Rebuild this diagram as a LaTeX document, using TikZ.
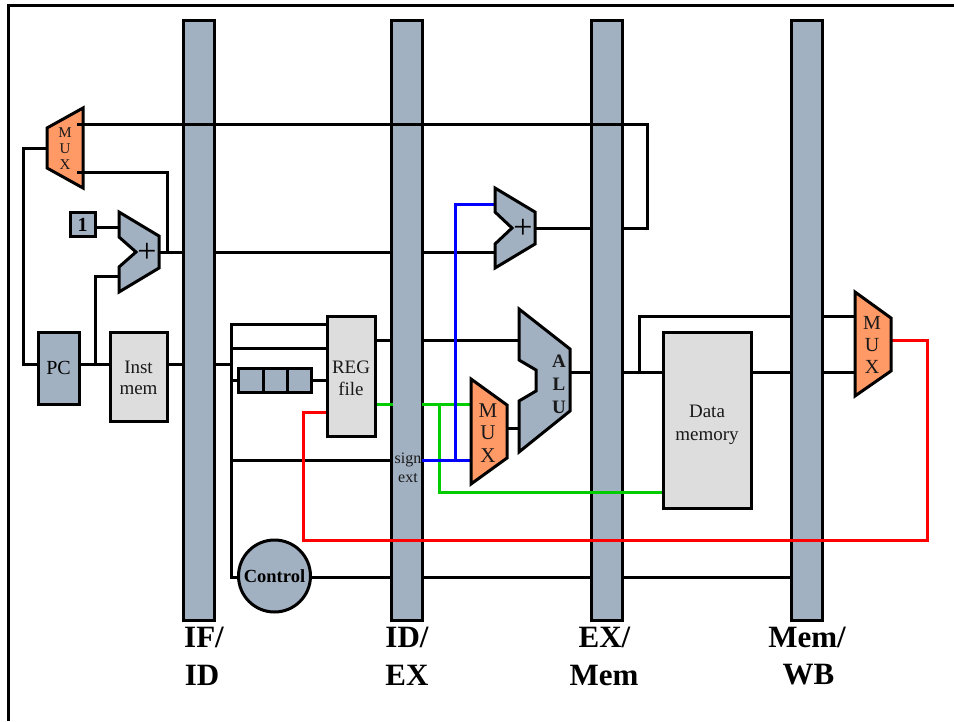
\documentclass[tikz,border=0pt]{standalone}
\usepackage{fontspec}
\setmainfont{Liberation Serif}
\tikzset{
  x=1pt,y=-1pt,
  wire/.style={line width=3pt,line join=miter,line cap=rect,draw=black},
  greenwire/.style={wire,draw=wiregreen},
  bluewire/.style={wire,draw=blue},
  redwire/.style={wire,draw=red},
  bar/.style={rectangle,draw=black,line width=3pt,fill=barblue,inner sep=0pt,minimum width=31pt,minimum height=600pt},
  unit/.style={draw=black,line width=3pt,fill=barblue},
  mem/.style={draw=black,line width=3pt,fill=memgray},
  muxshape/.style={draw=black,line width=3pt,fill=muxorange,line join=miter},
  addshape/.style={draw=black,line width=3pt,fill=barblue,line join=miter},
  lbl/.style={inner sep=0pt,align=center,text=black!90},
  big/.style={inner sep=0pt,font=\fontsize{31}{31}\selectfont\bfseries},
  plus/.style={inner sep=0pt,font=\fontsize{34}{34}\selectfont},
}
\definecolor{barblue}{HTML}{A2B1C2}
\definecolor{memgray}{HTML}{DDDDDD}
\definecolor{muxorange}{HTML}{FF9966}
\definecolor{wiregreen}{HTML}{00CC00}
\begin{document}
\begin{tikzpicture}
\useasboundingbox (0,0) rectangle (954,721);
\fill[white] (0,0) rectangle (954,721);
% connector ends on shapes
\coordinate (m1a) at (80,124);
\coordinate (m1b) at (80,172);
\coordinate (m1l) at (47,148);
\coordinate (add1a) at (119,227);
\coordinate (add1b) at (119,276);
\coordinate (add1o) at (159,252);
\coordinate (add2a) at (495,204);
\coordinate (add2b) at (495,252);
\coordinate (add2o) at (535,228);
\coordinate (mux2a) at (471,404);
\coordinate (mux2b) at (471,460);
\coordinate (mux2o) at (504,428);
\coordinate (alua) at (519,340);
\coordinate (alub) at (519,428);
\coordinate (aluo) at (568,372);
\coordinate (mux3a) at (855,316);
\coordinate (mux3b) at (855,372);
\coordinate (mux3o) at (888,340);
% frame
\draw[line width=3pt] (8,721) -- (8,5) -- (954,5);
% wires under the bars
\draw[wire] (m1b) -- (167,172) -- (167,252);
\draw[wire] (add1o) -- (add2b);
\draw[wire] (m1l) -- (23,148) -- (23,364) -- (38,364);
\draw[wire] (79,364) -- (110,364);
\draw[wire] (95,364) -- (95,276) -- (add1b);
\draw[wire] (95,227) -- (add1a);
\draw[wire] (167,364) -- (231,364);
\draw[wire] (231,324) -- (231,577) -- (238,577);
\draw[wire] (231,324) -- (327,324);
\draw[wire] (231,348) -- (327,348);
\draw[wire] (231,380) -- (238,380);
\draw[wire] (311,380) -- (327,380);
\draw[wire] (231,460) -- (398,460);
\draw[wire] (375,340) -- (alua);
\draw[wire] (311,577) -- (800,577);
\draw[wire] (aluo) -- (663,372);
\draw[wire] (639,372) -- (639,316) -- (mux3a);
\draw[wire] (751,372) -- (mux3b);
\draw[wire] (mux2o) -- (alub);
\draw[wire] (add2o) -- (647,228) -- (647,124);
% bars
\node[bar] (barA) at (198.5,320) {};
\node[bar] (barB) at (407,320) {};
\node[bar] (barC) at (607,320) {};
\node[bar] (barD) at (807,320) {};
% wires that run over the bars
\draw[wire] (m1a) -- (647,124);
% coloured wires
\draw[greenwire] (375,404) -- (391,404);
\draw[greenwire] (423,404) -- (mux2a);
\draw[greenwire] (439,404) -- (439,492) -- (663,492);
\draw[bluewire] (423,460) -- (mux2b);
\draw[bluewire] (455,460) -- (455,204) -- (add2a);
\draw[redwire] (mux3o) -- (927,340) -- (927,540) -- (303,540) -- (303,412) -- (327,412);
% units
\filldraw[muxshape] (47,128) -- (83,108) -- (83,188) -- (47,168) -- cycle;
\node[lbl,font=\fontsize{15}{16}\selectfont] (muxA) at (65,149) {M\\U\\X};
\draw[wire] (78,124) -- (m1a);
\draw[wire] (78,172) -- (m1b);
\filldraw[addshape] (119,212) -- (159,236) -- (159,268) -- (119,292) -- (119,267) -- (136,252) -- (119,237) -- cycle;
\node[plus] (addA) at (147,253) {+};
\node[unit,minimum width=25pt,minimum height=24pt,inner sep=0pt,font=\fontsize{20}{20}\selectfont\bfseries] (one) at (82.5,224.5) {1};
\filldraw[addshape] (495,188) -- (535,212) -- (535,244) -- (495,268) -- (495,244) -- (512,228) -- (495,212) -- cycle;
\node[plus] (addB) at (523,229) {+};
\node[unit,minimum width=41pt,minimum height=72pt,inner sep=0pt,font=\fontsize{20}{20}\selectfont] (pc) at (58.5,368) {PC};
\node[mem,minimum width=57pt,minimum height=89pt,inner sep=0pt] (imem) at (138.5,376.5) {};
\node[lbl,font=\fontsize{19}{21}\selectfont] (imemtxt) at (138.5,378) {Inst\\mem};
\node[mem,minimum width=48pt,minimum height=120pt,inner sep=0pt] (reg) at (351,376) {};
\node[lbl,font=\fontsize{19}{22}\selectfont] (regtxt) at (351,378) {REG\\file};
\filldraw[unit] (238,368) rectangle (311,392);
\draw[line width=3pt] (263,368) -- (263,392) (287,368) -- (287,392);
\node[unit,circle,minimum size=72pt,inner sep=0pt,font=\fontsize{18.5}{18.5}\selectfont\bfseries] (ctrl) at (274.5,576) {Control};
\node[lbl,font=\fontsize{16}{19}\selectfont] (se) at (408,468) {sign\\ext};
\filldraw[muxshape] (471,379) -- (507,405) -- (507,458) -- (471,484) -- cycle;
\node[lbl,font=\fontsize{21}{22.5}\selectfont] (muxB) at (488,433) {M\\U\\X};
\filldraw[addshape] (519,309) -- (570,349) -- (570,411) -- (519,452) -- (519,401) -- (536,391) -- (536,370) -- (519,360) -- cycle;
\node[lbl,font=\fontsize{19}{23}\selectfont\bfseries] (alu) at (559,384) {A\\L\\U};
\node[mem,minimum width=88pt,minimum height=176pt,inner sep=0pt] (dmem) at (707,420) {};
\node[lbl,font=\fontsize{19}{23}\selectfont] (dmemtxt) at (707,424.5) {Data\\memory};
\filldraw[muxshape] (855,292) -- (891,318) -- (891,371) -- (855,396) -- cycle;
\node[lbl,font=\fontsize{20}{22}\selectfont] (muxC) at (872,345) {M\\U\\X};
\draw[wire] (504,428) -- (mux2o);
% pipeline labels
\node[big] (l1a) at (204,637) {IF/};
\node[big] (l1b) at (202,675) {ID};
\node[big] (l2a) at (407,637) {ID/};
\node[big] (l2b) at (407,675) {EX};
\node[big] (l3a) at (604.5,637) {EX/};
\node[big] (l3b) at (604,675) {Mem};
\node[big] (l4a) at (807,637) {Mem/};
\node[big] (l4b) at (808.5,675) {WB};
\end{tikzpicture}
\end{document}
